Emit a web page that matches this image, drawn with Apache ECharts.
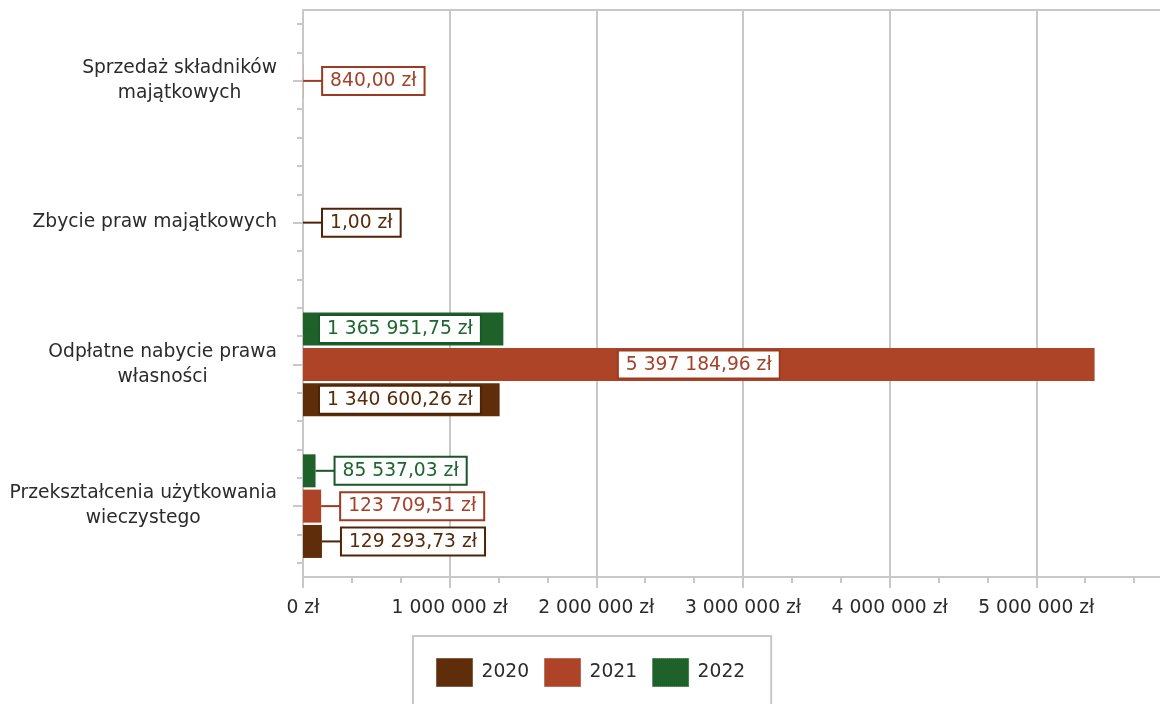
<!DOCTYPE html>
<html><head><meta charset="utf-8">
<script src="https://cdn.jsdelivr.net/npm/echarts@6/dist/echarts.min.js"></script>
<style>html,body{margin:0;padding:0;background:#fff;overflow:hidden}#c{width:1160px;height:704px}</style>
</head><body><div id="c"></div>
<script>
// ---- data ----
const categories = ['Przekształcenia użytkowania\nwieczystego', 'Odpłatne nabycie prawa\nwłasności', 'Zbycie praw majątkowych', 'Sprzedaż składników\nmajątkowych'];
const seriesNames = ['2020', '2021', '2022'];
const values2020 = [129293.73, 1340600.26, 1.00, null];
const values2021 = [123709.51, 5397184.96, null, 840.00];
const values2022 = [85537.03, 1365951.75, null, null];
const xAxisMax = 6000000;
const xAxisStep = 1000000;

// ---- style ----
const barColors = ['#602d0a', '#ad4428', '#1e6129'];
const textColors = ['#5a2a0a', '#a5412a', '#1d6630'];
const borderColors = ['#4e2408', '#9a3b22', '#19562a'];
const FONT = 'DejaVu Sans';
const FS = 18.7;
const GREY = '#c8c8c8';
const TXT = '#2b2b2b';

function plFmt(v, dec) {
  const s = v.toFixed(dec);
  let parts = s.split('.');
  const int = parts[0].replace(/\B(?=(\d{3})+(?!\d))/g, ' ');
  return int + (parts[1] ? ',' + parts[1] : '') + ' zł';
}

const allValues = [values2020, values2021, values2022];

const series = allValues.map((vals, si) => ({
  name: seriesNames[si],
  type: 'bar',
  barWidth: 33,
  barGap: '7%',
  itemStyle: { color: barColors[si] },
  label: {
    show: true,
    position: 'right',
    distance: 0,
    textBorderWidth: 0,
    formatter: p => {
      const v = p.value;
      if (v > 3e6) return '{b|' + plFmt(v, 2) + '}';
      if (v > 1e6) return '{m| }{b|' + plFmt(v, 2) + '}';
      return '{l| }{b|' + plFmt(v, 2) + '}';
    },
    rich: {
      l: { width: 20, height: 2, backgroundColor: borderColors[si], fontSize: 2 },
      m: { width: 17, height: 2, backgroundColor: barColors[si], fontSize: 2 },
      b: {
        color: textColors[si], fontFamily: FONT, fontSize: FS, lineHeight: 23,
        padding: [4, 7, 3, 7], backgroundColor: '#fff',
        borderColor: borderColors[si], borderWidth: 2, textBorderWidth: 0
      }
    }
  },
  data: vals.map((v, ci) => {
    if (v == null) return '-';
    const count = allValues.filter(a => a[ci] != null).length;
    const item = { value: v, label: {} };
    if (v > 3e6) item.label.position = 'inside';
    else if (v > 1e6) item.label.position = 'insideLeft';
    else item.label.position = 'right';
    if (count === 1) item.label.offset = [0, (si - 1) * 35.3];
    return item;
  })
})).reverse();

const minorYTicks = [];
for (let k = 0; k < 20; k++) { if (k % 5 !== 2) minorYTicks.push(k + 0.5); }

const chart = echarts.init(document.getElementById('c'), null, { renderer: 'canvas' });
chart.setOption({
  animation: false,
  backgroundColor: '#fff',
  textStyle: { fontFamily: FONT },
  grid: { left: 303, top: 10, width: 880, bottom: 127, outerBoundsMode: 'none', containLabel: false, show: false },
  legend: {
    data: seriesNames.map((n, i) => ({ name: n, itemStyle: { borderColor: borderColors[i], borderWidth: 1, borderType: 'dotted' } })),
    left: 413, top: 636, orient: 'horizontal',
    itemWidth: 36, itemHeight: 28, itemGap: 15,
    padding: [22, 26, 22, 23],
    borderColor: GREY, borderWidth: 2,
    icon: 'rect',
    textStyle: { fontFamily: FONT, fontSize: FS, color: TXT, padding: [0, 0, 0, 4] }
  },
  xAxis: [{
    type: 'value', min: 0, max: xAxisMax, interval: xAxisStep,
    axisLine: { show: true, lineStyle: { color: GREY, width: 2 } },
    axisTick: { show: true, length: 11, lineStyle: { color: GREY, width: 2 } },
    minorTick: { show: true, splitNumber: 3, length: 6, lineStyle: { color: GREY, width: 2 } },
    splitLine: { show: true, lineStyle: { color: GREY, width: 2 } },
    axisLabel: { formatter: v => plFmt(v, 0), showMaxLabel: false, margin: 22, color: TXT, fontFamily: FONT, fontSize: FS }
  }, {
    type: 'value', min: 0, max: xAxisMax, position: 'top',
    axisLine: { show: true, lineStyle: { color: GREY, width: 2 } },
    axisTick: { show: false }, axisLabel: { show: false }, splitLine: { show: false }
  }],
  yAxis: [{
    type: 'category', data: categories,
    axisLine: { show: true, lineStyle: { color: GREY, width: 2 } },
    axisTick: { show: true, alignWithLabel: true, length: 10, lineStyle: { color: GREY, width: 2 } },
    splitLine: { show: false },
    axisLabel: {
      margin: 26,
      formatter: v => v.split('\n').map(s => '{c|' + s + '}').join('\n'),
      rich: { c: { align: 'center', fontFamily: FONT, fontSize: FS, color: TXT, lineHeight: 25 } }
    }
  }, {
    type: 'value', min: 0, max: 20, position: 'left',
    axisLine: { show: false }, axisLabel: { show: false }, splitLine: { show: false },
    axisTick: { show: true, length: 6, customValues: minorYTicks, lineStyle: { color: GREY, width: 2 } }
  }],
  series: series
});
</script></body></html>
